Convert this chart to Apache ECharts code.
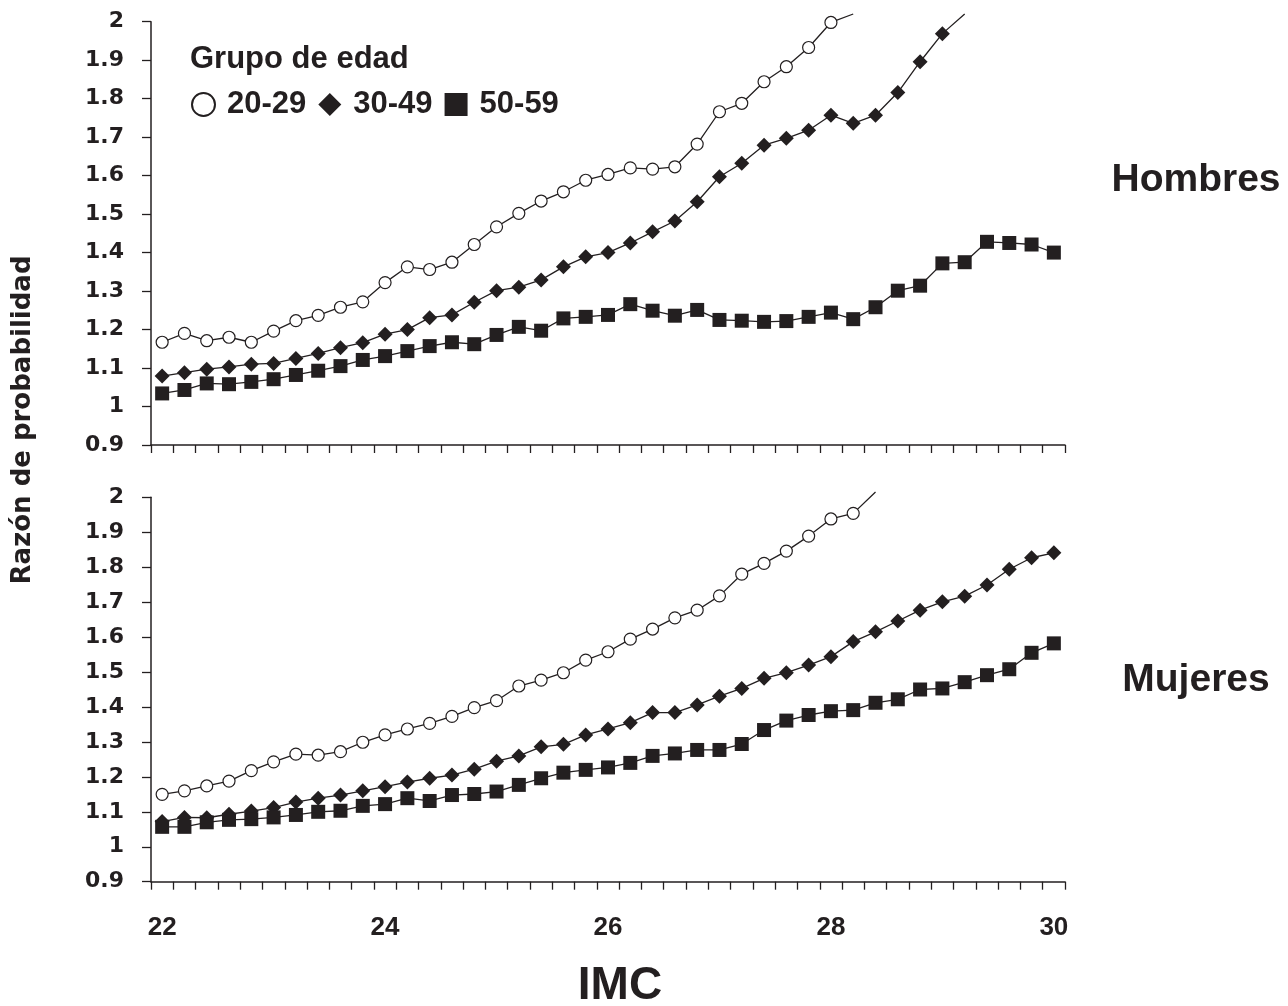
<!DOCTYPE html>
<html>
<head>
<meta charset="utf-8">
<title>Razón de probabilidad por IMC</title>
<script src="https://cdn.jsdelivr.net/npm/echarts@6/dist/echarts.min.js"></script>
<style>
  html, body { margin: 0; padding: 0; background: #fff; }
  #chart { width: 1288px; height: 1006px; }
</style>
</head>
<body>
<div id="chart"></div>
<script>
// categorías de IMC (22 a 30, paso 0.2)
const imc = ['22', '22.2', '22.4', '22.6', '22.8', '23', '23.2', '23.4', '23.6', '23.8',
  '24', '24.2', '24.4', '24.6', '24.8', '25', '25.2', '25.4', '25.6', '25.8',
  '26', '26.2', '26.4', '26.6', '26.8', '27', '27.2', '27.4', '27.6', '27.8',
  '28', '28.2', '28.4', '28.6', '28.8', '29', '29.2', '29.4', '29.6', '29.8', '30'];

const grupos = ['20-29', '30-49', '50-59'];

// Hombres
const hombres2029 = [1.167, 1.190, 1.171, 1.180, 1.167, 1.196, 1.223, 1.237, 1.258, 1.272,
  1.322, 1.363, 1.356, 1.375, 1.421, 1.467, 1.502, 1.534, 1.558, 1.588,
  1.603, 1.620, 1.617, 1.623, 1.682, 1.766, 1.788, 1.844, 1.883, 1.933,
  1.998, 2.02];
const hombres3049 = [1.079, 1.088, 1.097, 1.103, 1.110, 1.112, 1.125, 1.138, 1.153, 1.166,
  1.188, 1.200, 1.231, 1.238, 1.271, 1.301, 1.310, 1.329, 1.363, 1.389,
  1.400, 1.425, 1.454, 1.482, 1.532, 1.597, 1.632, 1.679, 1.697, 1.718,
  1.757, 1.736, 1.757, 1.816, 1.896, 1.969, 2.02];
const hombres5059 = [1.034, 1.043, 1.060, 1.058, 1.064, 1.071, 1.082, 1.093, 1.105, 1.121,
  1.131, 1.144, 1.157, 1.167, 1.162, 1.186, 1.207, 1.197, 1.229, 1.233,
  1.238, 1.266, 1.249, 1.236, 1.251, 1.225, 1.223, 1.220, 1.222, 1.233,
  1.244, 1.227, 1.258, 1.301, 1.314, 1.372, 1.375, 1.428, 1.425, 1.421, 1.400];

// Mujeres
const mujeres2029 = [1.150, 1.160, 1.174, 1.188, 1.218, 1.243, 1.265, 1.262, 1.272, 1.299,
  1.320, 1.337, 1.353, 1.373, 1.398, 1.418, 1.460, 1.477, 1.498, 1.534,
  1.558, 1.594, 1.623, 1.655, 1.677, 1.718, 1.780, 1.811, 1.846, 1.889,
  1.938, 1.954, 2.015];
const mujeres3049 = [1.072, 1.084, 1.083, 1.093, 1.102, 1.112, 1.128, 1.139, 1.148, 1.160,
  1.172, 1.185, 1.196, 1.205, 1.222, 1.245, 1.260, 1.286, 1.293, 1.320,
  1.337, 1.355, 1.384, 1.384, 1.406, 1.431, 1.453, 1.482, 1.498, 1.520,
  1.544, 1.587, 1.615, 1.646, 1.677, 1.701, 1.717, 1.749, 1.794, 1.827, 1.841];
const mujeres5059 = [1.057, 1.057, 1.070, 1.077, 1.079, 1.084, 1.091, 1.100, 1.103, 1.117,
  1.122, 1.139, 1.131, 1.148, 1.151, 1.158, 1.177, 1.196, 1.212, 1.220,
  1.227, 1.240, 1.260, 1.267, 1.277, 1.277, 1.294, 1.334, 1.361, 1.377,
  1.388, 1.391, 1.412, 1.422, 1.450, 1.453, 1.471, 1.491, 1.508, 1.555, 1.582];

const INK = '#231f20';
const yMax = 2;

// los puntos por encima del eje se dibujan sin marcador (solo la línea)
function toData(arr) {
  return arr.map(v => (v > yMax ? { value: v, symbol: 'none' } : v));
}

const estilos = {
  '20-29': { symbol: 'circle', symbolSize: 12, itemStyle: { color: '#fff', borderColor: INK, borderWidth: 1.2 } },
  '30-49': { symbol: 'diamond', symbolSize: 15, itemStyle: { color: INK, borderColor: INK, borderWidth: 0 } },
  '50-59': { symbol: 'rect', symbolSize: 14, itemStyle: { color: INK, borderColor: INK, borderWidth: 0 } }
};

function makeSeries(name, arr, idx) {
  const s = estilos[name];
  return {
    name: name,
    type: 'line',
    xAxisIndex: idx,
    yAxisIndex: idx,
    data: toData(arr),
    symbol: s.symbol,
    symbolSize: s.symbolSize,
    showAllSymbol: true,
    clip: false,
    itemStyle: s.itemStyle,
    lineStyle: { color: INK, width: 1.3 },
    emphasis: { disabled: true }
  };
}

function makeX(idx, showLabels) {
  return {
    type: 'category',
    gridIndex: idx,
    data: imc,
    boundaryGap: true,
    axisLine: { lineStyle: { color: INK, width: 1.5 } },
    axisTick: { show: true, interval: 0, length: 8, lineStyle: { color: INK, width: 1.3 } },
    axisLabel: {
      show: showLabels,
      interval: 9,
      margin: 33,
      color: INK,
      fontFamily: 'Liberation Sans',
      fontWeight: 'bold',
      fontSize: 26
    },
    splitLine: { show: false }
  };
}

function makeY(idx) {
  return {
    type: 'value',
    gridIndex: idx,
    min: 0.9,
    max: yMax,
    interval: 0.1,
    axisLine: { show: true, lineStyle: { color: INK, width: 1.5 } },
    axisTick: { show: true, length: 9, lineStyle: { color: INK, width: 1.3 } },
    axisLabel: {
      margin: 27,
      color: INK,
      fontFamily: 'DejaVu Sans',
      fontWeight: 'bold',
      fontSize: 22
    },
    splitLine: { show: false }
  };
}

const chart = echarts.init(document.getElementById('chart'), null, { renderer: 'canvas' });

const option = {
  backgroundColor: '#fff',
  animation: false,
  grid: [
    { left: 151, right: 223, top: 21.7, height: 423.3 },
    { left: 151, right: 223, top: 497.3, height: 384.4 }
  ],
  xAxis: [makeX(0, false), makeX(1, true)],
  yAxis: [makeY(0), makeY(1)],
  legend: {
    left: 191,
    top: 89,
    padding: 0,
    itemGap: 12,
    itemWidth: 23,
    itemHeight: 23,
    selectedMode: false,
    data: [
      { name: '20-29', icon: 'circle' },
      { name: '30-49', icon: 'diamond' },
      { name: '50-59', icon: 'rect' }
    ],
    textStyle: {
      color: INK,
      fontFamily: 'Liberation Sans',
      fontWeight: 'bold',
      fontSize: 31,
      padding: [0, 0, 0, 7]
    }
  },
  graphic: [
    {
      type: 'text', x: 190, y: 59,
      style: { text: 'Grupo de edad', fill: INK, fontFamily: 'Liberation Sans', fontWeight: 'bold', fontSize: 31, align: 'left', verticalAlign: 'middle' }
    },
    {
      type: 'text', x: 1196, y: 180,
      style: { text: 'Hombres', fill: INK, fontFamily: 'Liberation Sans', fontWeight: 'bold', fontSize: 39, align: 'center', verticalAlign: 'middle' }
    },
    {
      type: 'text', x: 1196, y: 680,
      style: { text: 'Mujeres', fill: INK, fontFamily: 'Liberation Sans', fontWeight: 'bold', fontSize: 39, align: 'center', verticalAlign: 'middle' }
    },
    {
      type: 'text', x: 23, y: 420, rotation: Math.PI / 2,
      style: { text: 'Razón de probabilidad', fill: INK, fontFamily: 'DejaVu Sans', fontWeight: 'bold', fontSize: 26, align: 'center', verticalAlign: 'middle' }
    },
    {
      type: 'text', x: 620, y: 986,
      style: { text: 'IMC', fill: INK, fontFamily: 'Liberation Sans', fontWeight: 'bold', fontSize: 46, align: 'center', verticalAlign: 'middle' }
    }
  ],
  series: [
    makeSeries(grupos[0], hombres2029, 0),
    makeSeries(grupos[1], hombres3049, 0),
    makeSeries(grupos[2], hombres5059, 0),
    makeSeries(grupos[0], mujeres2029, 1),
    makeSeries(grupos[1], mujeres3049, 1),
    makeSeries(grupos[2], mujeres5059, 1)
  ]
};

chart.setOption(option);
</script>
</body>
</html>
